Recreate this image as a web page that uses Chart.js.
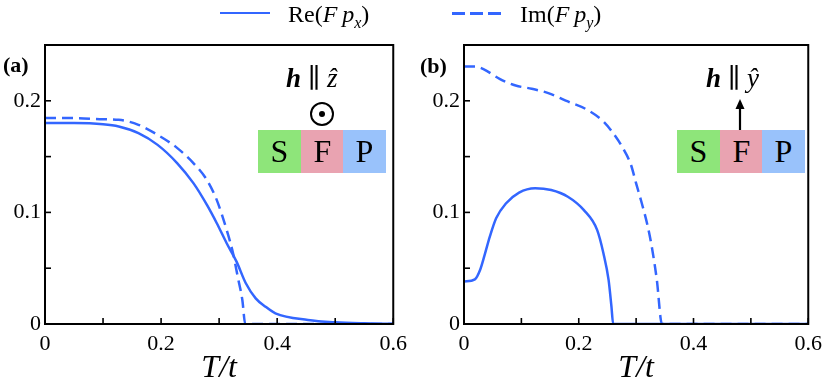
<!DOCTYPE html>
<html lang="en">
<head>
  <meta charset="UTF-8" />
  <title>F components vs T/t</title>
  <script src="https://cdn.jsdelivr.net/npm/chart.js"></script>
  <style>
    body {
      margin: 0;
      background: #fff;
      font-family: "Liberation Serif", "DejaVu Serif", serif;
    }
    .wrap {
      position: relative;
      width: 829px;
      height: 392px;
      overflow: hidden;
    }
    canvas { position: absolute; top: 0; }
    .abs { position: absolute; white-space: nowrap; line-height: 1; }
    .legline { position: absolute; width: 50px; height: 0; border-top: 2.5px solid #3366ff; }
    .legline.dash { border-top: none; height: 3px;
      background: repeating-linear-gradient(90deg, #3366ff 0 13px, transparent 13px 18px); }
    .leg { font-size: 24px; }
    .panel { font-size: 22px; font-weight: bold; }
    .cell { position: absolute; top: 130px; width: 43px; height: 43px; font-size: 32px;
      text-align: center; line-height: 43px; }
    .field { font-size: 27px; }
    .odot { position: absolute; width: 20px; height: 20px; border: 2px solid #000; border-radius: 50%; }
    .odot::after { content: ""; position: absolute; left: 7px; top: 7px; width: 6px; height: 6px;
      border-radius: 50%; background: #000; }
  </style>
</head>
<body>
  <div class="wrap">
    <canvas id="chartA" width="414" height="392" style="left:0"></canvas>
    <canvas id="chartB" width="415" height="392" style="left:414px"></canvas>

    <div class="legline" style="left:220px; top:12px"></div>
    <div class="abs leg" style="left:288px; top:2px">Re(<i>F</i>&thinsp;<i>p</i><sub><i style="font-size:16px">x</i></sub>)</div>
    <div class="legline dash" style="left:452px; top:12px"></div>
    <div class="abs leg" style="left:520px; top:2px">Im(<i>F</i>&thinsp;<i>p</i><sub><i style="font-size:16px">y</i></sub>)</div>

    <div class="abs panel" style="left:3px; top:54px">(a)</div>
    <div class="abs panel" style="left:420px; top:55px">(b)</div>

    <div class="abs field" style="left:286px; top:65px"><b><i>h</i></b> &#8741; <i>&#7825;</i></div>
    <div class="odot" style="left:310px; top:102px"></div>
    <div class="cell" style="left:258px; background:#8ee57a">S</div>
    <div class="cell" style="left:301px; background:#e9a3b1">F</div>
    <div class="cell" style="left:343px; background:#99c2fb">P</div>

    <div class="abs field" style="left:706px; top:65px"><b><i>h</i></b> &#8741; <i>&#375;</i></div>
    <div class="cell" style="left:677px; background:#8ee57a">S</div>
    <div class="cell" style="left:720px; background:#e9a3b1">F</div>
    <div class="cell" style="left:762px; background:#99c2fb">P</div>
    <svg class="abs" style="left:730px; top:96px" width="20" height="40">
      <line x1="10" y1="34" x2="10" y2="10" stroke="#000" stroke-width="2.2"/>
      <polygon points="10,3 5.5,13 14.5,13" fill="#000"/>
    </svg>
  </div>

  <script>
    // panel (a): h || z
    const tReA = [0, 0.05, 0.1, 0.127, 0.161, 0.194, 0.228, 0.256, 0.279, 0.296, 0.313, 0.33, 0.346, 0.363, 0.38, 0.397, 0.453, 0.5, 0.55, 0.6];
    const reA  = [0.180, 0.180, 0.179, 0.177, 0.171, 0.1605, 0.144, 0.126, 0.1067, 0.0903, 0.0724, 0.0559, 0.0365, 0.023, 0.0155, 0.0096, 0.0036, 0.0015, 0.0006, 0.0002];
    const tImA = [0, 0.05, 0.1, 0.127, 0.161, 0.194, 0.228, 0.256, 0.279, 0.296, 0.313, 0.324, 0.332, 0.34, 0.345, 0.4, 0.5, 0.6];
    const imA  = [0.1845, 0.1845, 0.1835, 0.183, 0.1785, 0.1695, 0.1576, 0.144, 0.129, 0.111, 0.0843, 0.0634, 0.0424, 0.0215, 0, 0, 0, 0];

    // panel (b): h || y
    const tReB = [0, 0.019, 0.028, 0.036, 0.045, 0.056, 0.073, 0.096, 0.124, 0.152, 0.181, 0.209, 0.232, 0.243, 0.252, 0.257, 0.26, 0.3, 0.6];
    const reB  = [0.038, 0.040, 0.0484, 0.0619, 0.0783, 0.0948, 0.108, 0.1178, 0.1217, 0.120, 0.114, 0.102, 0.0843, 0.0634, 0.0395, 0.0155, 0, 0, 0];
    const tImB = [0, 0.019, 0.033, 0.062, 0.09, 0.118, 0.147, 0.181, 0.215, 0.243, 0.26, 0.277, 0.291, 0.3, 0.31, 0.32, 0.327, 0.336, 0.345, 0.4, 0.6];
    const imB  = [0.2308, 0.2308, 0.2287, 0.2197, 0.2137, 0.2108, 0.2069, 0.1994, 0.1919, 0.1815, 0.171, 0.1576, 0.1426, 0.126, 0.108, 0.088, 0.070, 0.040, 0, 0, 0];

    const xTicks = [0, 0.2, 0.4, 0.6];
    const yTicks = [0, 0.1, 0.2];
    const blue = '#3366ff';
    const serif = '"Liberation Serif", "DejaVu Serif", serif';

    const pts = (ts, vs) => ts.map((t, i) => ({ x: t, y: vs[i] }));

    // frame + inward ticks
    const framePlugin = {
      id: 'frame',
      afterDatasetsDraw(chart) {
        const { ctx, chartArea: a, scales } = chart;
        ctx.save();
        ctx.strokeStyle = '#000';
        ctx.lineWidth = 1.6;
        scales.x.ticks.forEach(t => {
          const px = scales.x.getPixelForValue(t.value);
          ctx.beginPath(); ctx.moveTo(px, a.bottom); ctx.lineTo(px, a.bottom - 6); ctx.stroke();
        });
        scales.y.ticks.forEach(t => {
          const py = scales.y.getPixelForValue(t.value);
          ctx.beginPath(); ctx.moveTo(a.left, py); ctx.lineTo(a.left + 6, py); ctx.stroke();
        });
        ctx.lineWidth = 2;
        ctx.strokeRect(a.left, a.top, a.right - a.left, a.bottom - a.top);
        ctx.restore();
      }
    };

    function makeChart(id, reData, imData, yWidth, padRight) {
      return new Chart(document.getElementById(id).getContext('2d'), {
        type: 'line',
        data: {
          datasets: [
            { label: 'Re', data: reData, borderColor: blue, borderWidth: 2.5,
              pointRadius: 0, cubicInterpolationMode: 'monotone', fill: false },
            { label: 'Im', data: imData, borderColor: blue, borderWidth: 2.5, borderDash: [11, 6],
              pointRadius: 0, cubicInterpolationMode: 'monotone', fill: false }
          ]
        },
        options: {
          responsive: false,
          animation: false,
          devicePixelRatio: 1,
          layout: { padding: { top: 45, right: padRight, left: 0, bottom: 0 } },
          plugins: { legend: { display: false }, tooltip: { enabled: false } },
          scales: {
            x: {
              type: 'linear', min: 0, max: 0.6,
              grid: { display: false, drawTicks: false },
              border: { display: false },
              ticks: {
                stepSize: 0.1, padding: 7, maxRotation: 0, autoSkip: false,
                color: '#000', font: { family: serif, size: 22 },
                callback: v => {
                  const r = Math.round(v * 10) / 10;
                  return xTicks.some(k => Math.abs(k - r) < 1e-9) ? String(r) : '';
                }
              },
              title: { display: true, text: 'T/t', color: '#000',
                font: { family: serif, size: 32, style: 'italic' }, padding: { top: 0, bottom: 4 } },
              afterFit: s => { s.height = 68; }
            },
            y: {
              min: 0, max: 0.25,
              grid: { display: false, drawTicks: false },
              border: { display: false },
              ticks: {
                stepSize: 0.05, padding: 4, autoSkip: false,
                color: '#000', font: { family: serif, size: 22 },
                callback: v => {
                  const r = Math.round(v * 100) / 100;
                  return yTicks.some(k => Math.abs(k - r) < 1e-9) ? String(r) : '';
                }
              },
              afterFit: s => { s.width = yWidth; }
            }
          }
        },
        plugins: [framePlugin]
      });
    }

    makeChart('chartA', pts(tReA, reA), pts(tImA, imA), 45, 14);
    makeChart('chartB', pts(tReB, reB), pts(tImB, imB), 50, 12);
  </script>
</body>
</html>
